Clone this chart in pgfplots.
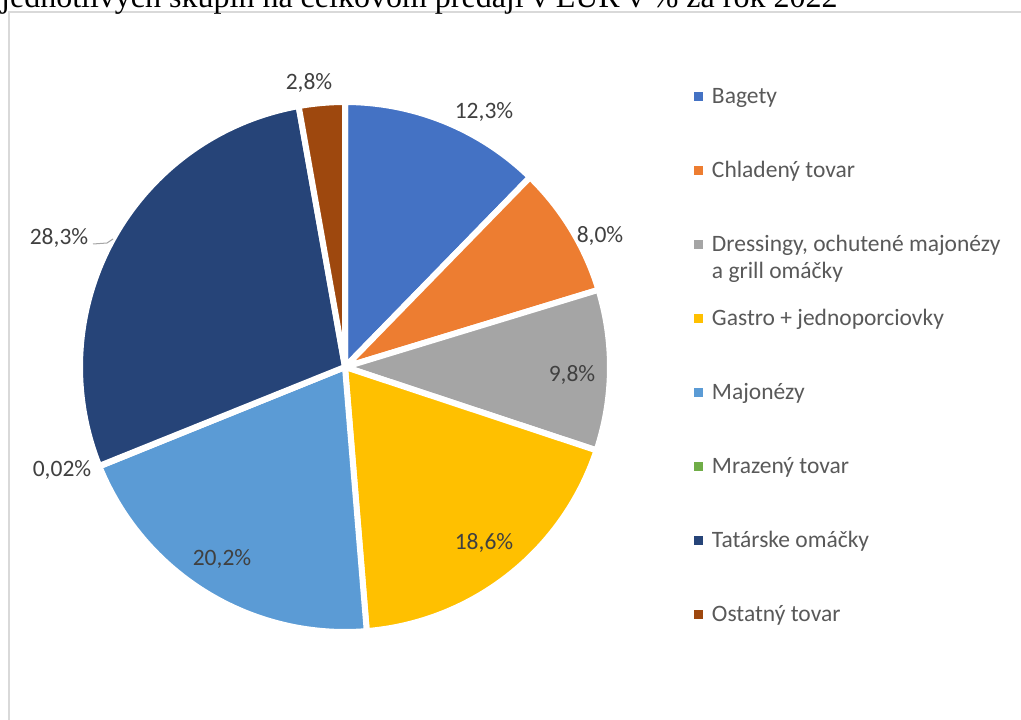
\documentclass[border=0pt]{standalone}
\usepackage{pgfplots}
\pgfplotsset{compat=1.18}
\usepackage{pgfplotstable}
\usepackage{fontspec}
\setmainfont{Carlito}
\newfontfamily\titlefont{Liberation Serif}

\definecolor{pc0}{HTML}{4472C4}
\definecolor{pc1}{HTML}{ED7D31}
\definecolor{pc2}{HTML}{A5A5A5}
\definecolor{pc3}{HTML}{FFC000}
\definecolor{pc4}{HTML}{5B9BD5}
\definecolor{pc5}{HTML}{70AD47}
\definecolor{pc6}{HTML}{264478}
\definecolor{pc7}{HTML}{9E480E}
\definecolor{labelgray}{HTML}{404040}
\definecolor{legendgray}{HTML}{595959}
\definecolor{bordergray}{HTML}{D9D9D9}

% share of each group (%), in pie order (clockwise from 12 o'clock)
\pgfplotstableread[col sep=semicolon]{
group;value
Bagety;12.3
Chladeny;8.0
Dressingy;9.8
Gastro;18.6
Majonezy;20.2
Mrazeny;0.02
Tatarske;28.3
Ostatny;2.8
}\piedata

% start / end angles of the slices
\xdef\pietotal{0}
\pgfplotsforeachungrouped \i in {0,...,7}{%
  \pgfplotstablegetelem{\i}{value}\of\piedata
  \pgfmathsetmacro{\tmp}{\pietotal+\pgfplotsretval}%
  \xdef\pietotal{\tmp}%
}
\xdef\piecum{0}
\pgfplotsforeachungrouped \i in {0,...,7}{%
  \pgfplotstablegetelem{\i}{value}\of\piedata
  \pgfmathsetmacro{\tmpa}{90-(\piecum/\pietotal)*360}%
  \pgfmathsetmacro{\tmpc}{\piecum+\pgfplotsretval}%
  \xdef\piecum{\tmpc}%
  \pgfmathsetmacro{\tmpb}{90-(\piecum/\pietotal)*360}%
  \expandafter\xdef\csname sa\i\endcsname{\tmpa}%
  \expandafter\xdef\csname ea\i\endcsname{\tmpb}%
}

\newcommand\lblfont{\fontsize{23.5bp}{27bp}\selectfont}

\begin{document}
\begin{tikzpicture}
\useasboundingbox (0,0) rectangle (1021bp,720bp);
\clip (0,0) rectangle (1021bp,720bp);
\begin{axis}[
  at={(0,0)}, anchor=origin,
  x=1bp, y=1bp,
  xmin=0, xmax=1021, ymin=0, ymax=720,
  hide axis,
  clip=false,
  legend image code/.code={\fill[#1,draw=none] (0bp,2.5bp) rectangle (9bp,11.5bp);},
  legend cell align=left,
  legend style={
    at={(694/1021,637/720)}, anchor=north west,
    draw=none, fill=none, inner sep=0pt, outer sep=0pt,
    row sep=48bp, column sep=9bp,
    font=\lblfont,
    cells={anchor=base west},
    nodes={inner sep=0pt, outer sep=0pt, text=legendgray, text height=20bp, text depth=6bp},
  },
]
\pgfplotsinvokeforeach{0,...,7}{
  \addplot[fill=pc#1, draw=white, line width=6bp, line join=round,
    domain=\csname ea#1\endcsname:\csname sa#1\endcsname, samples=80, variable=\t]
    ({345+265*cos(\t)},{353+265*sin(\t)}) -- (345,353) -- cycle;
}
\legend{Bagety, Chladený tovar, {\vtop{\hbox{Dressingy, ochutené majonézy}\hbox{a grill omáčky}}}, Gastro + jednoporciovky, Majonézy, Mrazený tovar, Tatárske omáčky, Ostatný tovar}

% data labels
\node[font=\lblfont, text=labelgray] at (484,608) {12,3\%};
\node[font=\lblfont, text=labelgray] at (600,484) {8,0\%};
\node[font=\lblfont, text=labelgray] at (572,345) {9,8\%};
\node[font=\lblfont, text=labelgray] at (484,177) {18,6\%};
\node[font=\lblfont, text=labelgray] at (222,161) {20,2\%};
\node[font=\lblfont, text=labelgray] at (62,250) {0,02\%};
\node[font=\lblfont, text=labelgray] at (59,482) {28,3\%};
\node[font=\lblfont, text=labelgray] at (309,637) {2,8\%};
\draw[color=black!35, line width=1bp] (93,476) -- (107,477) -- (113,481);

% chart frame and clipped title
\draw[bordergray, line width=1.5bp] (9,0) -- (9,708) -- (1021,708);
\node[anchor=base west, inner sep=0pt, font=\titlefont\fontsize{32bp}{38bp}\selectfont] at (1,712) {jednotlivých skupín na celkovom predaji v EUR v \% za rok 2022};
\end{axis}
\end{tikzpicture}
\end{document}
